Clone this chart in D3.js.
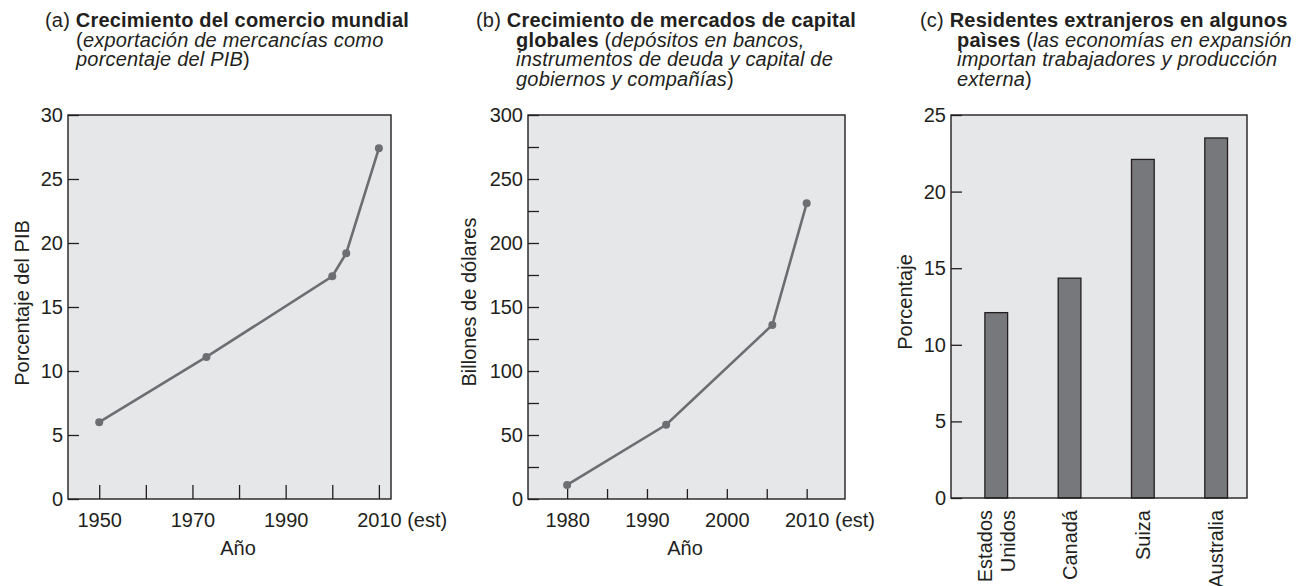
<!DOCTYPE html>
<html>
<head>
<meta charset="utf-8">
<script src="https://cdn.jsdelivr.net/npm/d3@7"></script>
<style>
  body { margin: 0; background: #fff; }
  svg text { font-family: "Liberation Sans", Arial, Helvetica, sans-serif; fill: #231f20; }
</style>
</head>
<body>
<svg id="chart" width="1300" height="586"></svg>
<script>
////////////// DATA

// (a) world trade, exports as % of GDP
var tradeYears = [1950, 1973, 2000, 2003, 2010];
var tradeShare = [6.0, 11.1, 17.4, 19.2, 27.4];
var tradeXTicks = [1950, 1960, 1970, 1980, 1990, 2000, 2010];
var tradeXLabels = ["1950", "", "1970", "", "1990", "", "2010"];
var tradeYTicks = [0, 5, 10, 15, 20, 25, 30];

// (b) global capital markets, billions of dollars
var capitalYears = [1980, 1992.4, 2005.7, 2010];
var capitalValues = [11, 58, 136, 231];
var capitalXTicks = [1980, 1985, 1990, 1995, 2000, 2005, 2010];
var capitalXLabels = ["1980", "", "1990", "", "2000", "", "2010"];
var capitalYTicks = [0, 25, 50, 75, 100, 125, 150, 175, 200, 225, 250, 275, 300];

// (c) foreign residents, percent
var countries = ["Estados Unidos", "Canadá", "Suiza", "Australia"];
var countryLines = [["Estados", "Unidos"], ["Canadá"], ["Suiza"], ["Australia"]];
var foreignShare = [12.1, 14.35, 22.1, 23.5];
var foreignYTicks = [0, 5, 10, 15, 20, 25];

var titleA = [
    [["(a) ", "n"], ["Crecimiento del comercio mundial", "b"]],
    [["(", "n"], ["exportación de mercancías como", "i"]],
    [["porcentaje del PIB", "i"], [")", "n"]]
];
var titleB = [
    [["(b) ", "n"], ["Crecimiento de mercados de capital", "b"]],
    [["globales", "b"], [" (", "n"], ["depósitos en bancos,", "i"]],
    [["instrumentos de deuda y capital de", "i"]],
    [["gobiernos y compañías", "i"], [")", "n"]]
];
var titleC = [
    [["(c) ", "n"], ["Residentes extranjeros en algunos", "b"]],
    [["paìses", "b"], [" (", "n"], ["las economías en expansión", "i"]],
    [["importan trabajadores y producción", "i"]],
    [["externa", "i"], [")", "n"]]
];

////////////// SETUP

var svg = d3.select("#chart");
var ink = "#231f20",
    plotBg = "#e6e7e9",
    lineCol = "#6d6e71",
    barCol = "#77787b",
    plotTop = 115;

var drawTitle = function (x, indent, lines) {
    lines.forEach(function (line, i) {
        var t = svg.append("text")
            .attr("x", i === 0 ? x : indent)
            .attr("y", 27 + i * 19.7)
            .style("font-size", "20px")
            .style("letter-spacing", "0.2px");
        line.forEach(function (seg) {
            t.append("tspan")
                .text(seg[0])
                .style("font-weight", seg[1] === "b" ? "bold" : "normal")
                .style("font-style", seg[1] === "i" ? "italic" : "normal");
        });
    });
}

var styleAxis = function (g) {
    g.select(".domain").remove();
    g.attr("font-size", 20)
        .attr("font-family", null)
        .attr("color", ink);
    g.selectAll(".tick line").style("stroke-width", 1.3);
}

var addEst = function (g, year) {
    g.selectAll(".tick text")
        .filter(function (d) { return d === year; })
        .each(function () {
            var w = this.getComputedTextLength();
            d3.select(this).attr("text-anchor", "start").attr("x", -w / 2)
                .append("tspan").text(" (est)");
        });
}

var yTitle = function (x, y, label) {
    svg.append("text")
        .attr("transform", "translate(" + x + "," + y + ") rotate(-90)")
        .attr("text-anchor", "middle")
        .attr("dy", "0.35em")
        .style("font-size", "20px")
        .text(label);
}

var xTitle = function (x, label) {
    svg.append("text")
        .attr("x", x)
        .attr("y", 555)
        .attr("text-anchor", "middle")
        .style("font-size", "20px")
        .text(label);
}

var lineChart = function (left, right, bottom, xDomain, yMax, years, values, xTicks, xLabels, xTickLen, yTicks, yLabelFn) {
    var x = d3.scaleLinear().domain(xDomain).range([left, right]);
    var y = d3.scaleLinear().domain([0, yMax]).range([bottom, plotTop]);

    svg.append("rect")
        .attr("x", left).attr("y", plotTop)
        .attr("width", right - left).attr("height", bottom - plotTop)
        .style("fill", plotBg);

    svg.append("g")
        .attr("transform", "translate(0," + bottom + ")")
        .call(d3.axisBottom(x).tickValues(xTicks).tickSize(-xTickLen).tickPadding(13.5)
            .tickFormat(function (d, i) { return xLabels[i]; }))
        .call(styleAxis)
        .call(addEst, 2010);

    svg.append("g")
        .attr("transform", "translate(" + left + ",0)")
        .call(d3.axisLeft(y).tickValues(yTicks).tickSize(-11).tickPadding(5).tickFormat(yLabelFn))
        .call(styleAxis);

    var pts = years.map(function (yr, i) { return [yr, values[i]]; });

    svg.append("path")
        .datum(pts)
        .attr("d", d3.line().x(function (d) { return x(d[0]); }).y(function (d) { return y(d[1]); }))
        .style("fill", "none")
        .style("stroke", lineCol)
        .style("stroke-width", 2.6);

    svg.selectAll(null)
        .data(pts)
        .enter()
        .append("circle")
        .attr("cx", function (d) { return x(d[0]); })
        .attr("cy", function (d) { return y(d[1]); })
        .attr("r", 4)
        .style("fill", lineCol);

    svg.append("rect")
        .attr("x", left).attr("y", plotTop)
        .attr("width", right - left).attr("height", bottom - plotTop)
        .style("fill", "none")
        .style("stroke", ink)
        .style("stroke-width", 1.4);
}

////////////// (a)

drawTitle(45, 76, titleA);
lineChart(68, 391, 499, [1943.3, 2012.6], 30, tradeYears, tradeShare,
    tradeXTicks, tradeXLabels, 14, tradeYTicks, function (d) { return d; });
yTitle(22, 303, "Porcentaje del PIB");
xTitle(238, "Año");

////////////// (b)

drawTitle(476, 516, titleB);
lineChart(528, 845, 499, [1975.1, 2014.8], 300, capitalYears, capitalValues,
    capitalXTicks, capitalXLabels, 10, capitalYTicks, function (d) { return d % 50 === 0 ? d : ""; });
yTitle(469, 302, "Billones de dólares");
xTitle(685, "Año");

////////////// (c)

drawTitle(920, 957, titleC);

var cLeft = 951, cRight = 1247, cBottom = 498;

var xBand = d3.scaleBand()
    .domain(countries)
    .range([cLeft, cRight])
    .paddingInner(0.69)
    .paddingOuter(0.364)
    .align(0.635);

var yC = d3.scaleLinear().domain([0, 25]).range([cBottom, plotTop]);

svg.append("rect")
    .attr("x", cLeft).attr("y", plotTop)
    .attr("width", cRight - cLeft).attr("height", cBottom - plotTop)
    .style("fill", plotBg);

svg.append("g")
    .attr("transform", "translate(" + cLeft + ",0)")
    .call(d3.axisLeft(yC).tickValues(foreignYTicks).tickSize(-11).tickPadding(5))
    .call(styleAxis);

svg.selectAll(".bar")
    .data(foreignShare)
    .enter()
    .append("rect")
    .attr("class", "bar")
    .attr("x", function (d, i) { return xBand(countries[i]); })
    .attr("y", function (d) { return yC(d); })
    .attr("width", xBand.bandwidth())
    .attr("height", function (d) { return cBottom - yC(d); })
    .style("fill", barCol)
    .style("stroke", ink)
    .style("stroke-width", 1.3);

svg.append("rect")
    .attr("x", cLeft).attr("y", plotTop)
    .attr("width", cRight - cLeft).attr("height", cBottom - plotTop)
    .style("fill", "none")
    .style("stroke", ink)
    .style("stroke-width", 1.4);

// rotated country labels
countryLines.forEach(function (lines, i) {
    var cx = xBand(countries[i]) + xBand.bandwidth() / 2;
    var t = svg.append("text")
        .attr("transform", "translate(" + cx + ",510) rotate(-90)")
        .attr("text-anchor", "end")
        .style("font-size", "20px");
    lines.forEach(function (ln, j) {
        t.append("tspan")
            .attr("x", 0)
            .attr("dy", j === 0 ? (0.35 - (lines.length - 1) * 0.585) + "em" : "1.17em")
            .text(ln);
    });
});

yTitle(905, 302, "Porcentaje");
</script>
</body>
</html>
